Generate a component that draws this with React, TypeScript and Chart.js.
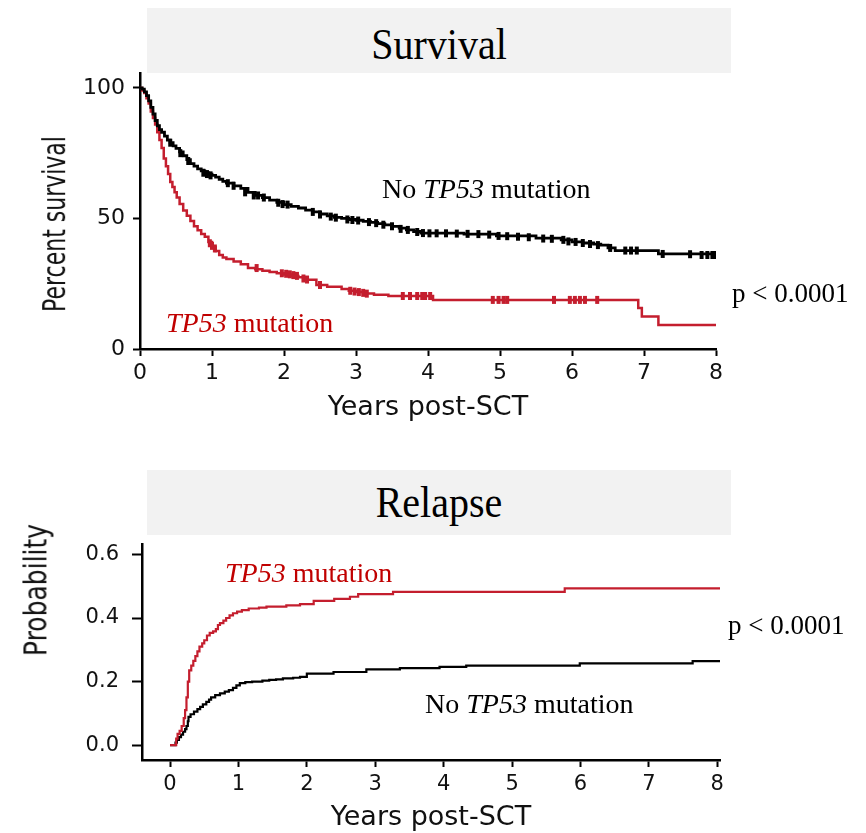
import React, { useEffect, useRef } from "react";
import { Chart, registerables } from "chart.js";

Chart.register(...registerables);

// ---------- Survival (Kaplan-Meier) ----------
const osTimesNo = [0, 0.03, 0.06, 0.09, 0.12, 0.15, 0.18, 0.21, 0.24, 0.27, 0.3, 0.34, 0.38, 0.42, 0.46, 0.5, 0.55, 0.6, 0.65, 0.7, 0.75, 0.8, 0.85, 0.9, 0.95, 1.0, 1.05, 1.1, 1.15, 1.2, 1.3, 1.4, 1.5, 1.6, 1.7, 1.8, 1.9, 2.0, 2.1, 2.2, 2.3, 2.4, 2.5, 2.6, 2.7, 2.8, 2.9, 3.0, 3.1, 3.2, 3.3, 3.4, 3.5, 3.6, 3.7, 3.8, 3.9, 4.5, 4.95, 5.5, 5.85, 6.0, 6.15, 6.3, 6.4, 6.5, 6.6, 7.2, 8.0];
const osValuesNo = [100, 99.5, 98.5, 97, 95, 92.5, 90, 87.5, 85.5, 84, 83, 81.5, 80, 79, 77.8, 76.8, 75.5, 74, 72.5, 71, 70, 69, 68.2, 67.5, 67, 66.5, 65.8, 65, 64.2, 63.5, 62.5, 61.5, 60, 58.8, 58, 57, 56.2, 55.3, 54.6, 54, 53.2, 52.5, 51.7, 51, 50.4, 50, 49.6, 49.3, 48.9, 48.5, 48, 47.5, 47, 46.3, 45.6, 45, 44.4, 44, 43.3, 42.5, 41.8, 41, 40.6, 40.2, 39.8, 38.7, 37.7, 36.4, 36];

const osTimesMut = [0, 0.03, 0.06, 0.09, 0.12, 0.15, 0.18, 0.21, 0.24, 0.27, 0.3, 0.33, 0.36, 0.39, 0.42, 0.45, 0.48, 0.51, 0.55, 0.6, 0.65, 0.7, 0.75, 0.8, 0.85, 0.9, 0.95, 1.0, 1.05, 1.1, 1.15, 1.2, 1.3, 1.4, 1.5, 1.6, 1.7, 1.8, 1.9, 2.0, 2.1, 2.2, 2.3, 2.45, 2.6, 2.8, 2.9, 3.0, 3.1, 3.25, 3.45, 4.07, 6.92, 6.97, 7.2, 8.0];
const osValuesMut = [100, 99, 98, 96, 94, 91, 88.5, 86, 83, 80, 77, 73, 70, 67, 64, 62, 60, 58, 55.5, 53, 51, 49, 47, 45.5, 44, 43, 41, 39, 37.5, 36, 35, 34.5, 33.5, 32.5, 31, 30.5, 30, 29.5, 29, 28.5, 28, 27.5, 26.5, 24.5, 23.8, 23, 22.3, 21.8, 21.3, 20.8, 20.3, 18.8, 15.7, 12.4, 9.2, 9.2];

const censorTimesNo = [0.42, 0.56, 0.67, 0.88, 0.93, 0.98, 1.22, 1.3, 1.46, 1.58, 1.64, 1.72, 1.92, 1.98, 2.05, 2.4, 2.5, 2.65, 2.72, 2.88, 2.95, 3.03, 3.18, 3.28, 3.38, 3.5, 3.62, 3.72, 3.85, 3.93, 4.02, 4.12, 4.25, 4.4, 4.55, 4.7, 4.85, 4.98, 5.1, 5.25, 5.4, 5.6, 5.72, 5.88, 5.95, 6.05, 6.15, 6.25, 6.36, 6.53, 6.74, 6.82, 6.9, 7.26, 7.64, 7.8, 7.88, 7.95, 8.0];
const censorValuesNo = [79, 75, 72, 67.5, 67, 66.5, 63.5, 62.5, 60, 58.8, 58.8, 58, 56, 55.5, 55.3, 52.5, 51.5, 50.7, 50.3, 49.6, 49.4, 49.2, 48.6, 48.2, 47.6, 47, 46, 45.6, 44.8, 44.4, 44.3, 44.3, 44.3, 44.2, 44.1, 44, 43.8, 43.3, 43.2, 43, 42.8, 42.3, 42.2, 41.8, 41.2, 41, 40.6, 40.2, 39.8, 38.7, 37.7, 37.7, 37.7, 36.4, 36.3, 36, 36, 36, 36];

const censorTimesMut = [0.97, 1.0, 1.04, 1.62, 1.97, 2.03, 2.08, 2.13, 2.18, 2.27, 2.32, 2.5, 2.92, 2.98, 3.04, 3.1, 3.15, 3.65, 3.75, 3.85, 3.92, 3.96, 4.03, 4.9, 4.98, 5.05, 5.1, 5.75, 5.97, 6.04, 6.11, 6.18, 6.35];
const censorValuesMut = [40.5, 39.5, 38.5, 31, 29, 28.8, 28.6, 28.3, 28, 27, 26.6, 24.5, 22.3, 22, 21.8, 21.5, 21.2, 20.3, 20.3, 20.3, 20.3, 20.3, 20.3, 18.8, 18.8, 18.8, 18.8, 18.8, 18.8, 18.8, 18.8, 18.8, 18.8];

const osXTicks = [0, 1, 2, 3, 4, 5, 6, 7, 8];
const osYTicks = [0, 50, 100];

// ---------- Relapse (cumulative incidence) ----------
const relTimesMut = [0, 0.07, 0.09, 0.11, 0.14, 0.17, 0.2, 0.22, 0.24, 0.26, 0.28, 0.31, 0.34, 0.37, 0.4, 0.43, 0.47, 0.5, 0.54, 0.58, 0.63, 0.67, 0.7, 0.73, 0.78, 0.82, 0.87, 0.92, 0.98, 1.05, 1.15, 1.3, 1.41, 1.7, 1.9, 2.1, 2.4, 2.63, 2.75, 3.26, 5.77, 8.05];
const relValuesMut = [0, 0, 0.02, 0.035, 0.045, 0.06, 0.085, 0.11, 0.15, 0.2, 0.235, 0.25, 0.265, 0.28, 0.295, 0.31, 0.32, 0.33, 0.345, 0.353, 0.358, 0.365, 0.378, 0.384, 0.392, 0.4, 0.408, 0.415, 0.42, 0.425, 0.43, 0.433, 0.436, 0.44, 0.444, 0.454, 0.46, 0.467, 0.475, 0.482, 0.493, 0.493];

const relTimesNo = [0, 0.05, 0.08, 0.1, 0.13, 0.16, 0.19, 0.22, 0.24, 0.26, 0.27, 0.3, 0.35, 0.4, 0.44, 0.48, 0.53, 0.57, 0.6, 0.66, 0.73, 0.8, 0.86, 0.92, 0.97, 1.02, 1.1, 1.2, 1.35, 1.45, 1.55, 1.65, 1.8, 1.9, 2.0, 2.39, 2.87, 3.36, 3.94, 4.33, 5.99, 7.64, 8.07];
const relValuesNo = [0, 0, 0.008, 0.016, 0.025, 0.033, 0.042, 0.05, 0.06, 0.075, 0.089, 0.097, 0.105, 0.113, 0.12, 0.128, 0.136, 0.143, 0.15, 0.157, 0.163, 0.168, 0.173, 0.18, 0.188, 0.195, 0.198, 0.2, 0.203, 0.205, 0.207, 0.21, 0.212, 0.215, 0.225, 0.23, 0.238, 0.242, 0.246, 0.25, 0.257, 0.264, 0.264];

const relXTicks = [0, 1, 2, 3, 4, 5, 6, 7, 8];
const relYTicks = [0, 0.2, 0.4, 0.6];

const RED_LINE = "#c41e2e";
const RED_TEXT = "#c00000";
const SANS = "'DejaVu Sans', Verdana, sans-serif";
const SERIF = "'Liberation Serif', 'Times New Roman', serif";

const pts = (xs: number[], ys: number[]) => xs.map((x, i) => ({ x, y: ys[i] }));

function ChartCanvas({ config, left, top, width, height }: any) {
  const ref = useRef<HTMLCanvasElement | null>(null);
  useEffect(() => {
    if (!ref.current) return;
    const chart = new Chart(ref.current, config());
    return () => chart.destroy();
  }, []);
  return (
    <canvas
      ref={ref}
      width={width}
      height={height}
      style={{ position: "absolute", left, top, width, height }}
    />
  );
}

const axisCommon = (tickLength: number) => ({
  border: { display: true, color: "#000", width: 2.5 },
  grid: { display: true, drawOnChartArea: false, drawTicks: true, tickLength, tickWidth: 2, color: "#000" },
});

const survivalConfig = () => ({
  type: "line",
  data: {
    datasets: [
      { label: "No TP53 mutation", data: pts(osTimesNo, osValuesNo), borderColor: "#000", borderWidth: 2.8, stepped: true, pointRadius: 0, fill: false },
      { label: "TP53 mutation", data: pts(osTimesMut, osValuesMut), borderColor: RED_LINE, borderWidth: 2.5, stepped: true, pointRadius: 0, fill: false },
      { label: "Censored (No TP53)", data: pts(censorTimesNo, censorValuesNo), showLine: false, pointStyle: "line", pointRotation: 90, pointRadius: 4, pointBorderWidth: 4, pointBorderColor: "#000", borderColor: "#000", backgroundColor: "#000" },
      { label: "Censored (TP53)", data: pts(censorTimesMut, censorValuesMut), showLine: false, pointStyle: "line", pointRotation: 90, pointRadius: 4, pointBorderWidth: 4, pointBorderColor: RED_LINE, borderColor: RED_LINE, backgroundColor: RED_LINE },
    ],
  },
  options: {
    animation: false,
    responsive: false,
    maintainAspectRatio: false,
    layout: { padding: { top: 30, left: 0, right: 150, bottom: 0 } },
    plugins: { legend: { display: false }, tooltip: { enabled: false } },
    scales: {
      x: {
        type: "linear",
        min: 0,
        max: 8,
        ...axisCommon(7),
        afterBuildTicks: (s: any) => { s.ticks = osXTicks.map((v) => ({ value: v })); },
        afterFit: (s: any) => { s.height = 91; },
        ticks: { font: { family: SANS, size: 22 }, color: "#111", padding: 4, maxRotation: 0, autoSkip: false },
        title: { display: true, text: "Years post-SCT", color: "#111", font: { family: SANS, size: 27, lineHeight: 1 }, padding: { top: 0, bottom: 18.5 } },
      },
      y: {
        type: "linear",
        min: 0,
        max: 105.7,
        ...axisCommon(7),
        afterBuildTicks: (s: any) => { s.ticks = osYTicks.map((v) => ({ value: v })); },
        afterFit: (s: any) => { s.width = 140; },
        ticks: { font: { family: SANS, size: 22 }, color: "#111", padding: 8, autoSkip: false },
        title: { display: false, text: "Percent survival" },
      },
    },
  },
});

const relapseConfig = () => ({
  type: "line",
  data: {
    datasets: [
      { label: "TP53 mutation", data: pts(relTimesMut, relValuesMut), borderColor: RED_LINE, borderWidth: 2.2, stepped: true, pointRadius: 0, fill: false },
      { label: "No TP53 mutation", data: pts(relTimesNo, relValuesNo), borderColor: "#000", borderWidth: 2.2, stepped: true, pointRadius: 0, fill: false },
    ],
  },
  options: {
    animation: false,
    responsive: false,
    maintainAspectRatio: false,
    layout: { padding: { top: 30, left: 0, right: 146, bottom: 0 } },
    plugins: { legend: { display: false }, tooltip: { enabled: false } },
    scales: {
      x: {
        type: "linear",
        min: -0.41,
        max: 8.04,
        ...axisCommon(7),
        afterBuildTicks: (s: any) => { s.ticks = relXTicks.map((v) => ({ value: v })); },
        afterFit: (s: any) => { s.height = 73; },
        ticks: { font: { family: SANS, size: 21 }, color: "#111", padding: 5, maxRotation: 0, autoSkip: false },
        title: { display: true, text: "Years post-SCT", color: "#111", font: { family: SANS, size: 27, lineHeight: 1 }, padding: { top: 0, bottom: 1.5 } },
      },
      y: {
        type: "linear",
        min: -0.047,
        max: 0.633,
        ...axisCommon(10),
        afterBuildTicks: (s: any) => { s.ticks = relYTicks.map((v) => ({ value: v })); },
        afterFit: (s: any) => { s.width = 142; },
        ticks: { font: { family: SANS, size: 21 }, color: "#111", padding: 13, autoSkip: false, callback: (v: any) => Number(v).toFixed(1) },
        title: { display: false, text: "Probability" },
      },
    },
  },
});

const abs = (left: number, top: number, extra: any = {}) => ({ position: "absolute" as const, left, top, ...extra });

function Note({ left, baseline, size, color, children }: any) {
  return (
    <div style={abs(left, baseline - size * 0.8375, { fontFamily: SERIF, fontSize: size, lineHeight: 1, color, whiteSpace: "nowrap" })}>
      {children}
    </div>
  );
}

function TitleBox({ top, text, baseline }: any) {
  return (
    <div style={abs(147, top, { width: 584, height: 65, background: "#f2f2f2" })}>
      <div
        style={{
          position: "absolute",
          left: 0,
          width: "100%",
          top: baseline - top - 33.5,
          textAlign: "center",
          fontFamily: SERIF,
          fontSize: 40,
          lineHeight: 1,
          color: "#000",
          transform: "scaleY(1.12)",
          transformOrigin: "50% 33.5px",
        }}
      >
        {text}
      </div>
    </div>
  );
}

function YTitle({ cx, cy, size, scale, text }: any) {
  return (
    <div
      style={abs(cx, cy, {
        fontFamily: SANS,
        fontSize: size,
        lineHeight: 1,
        color: "#111",
        whiteSpace: "nowrap",
        transform: `translate(-50%, -50%) rotate(-90deg) scaleY(${scale})`,
      })}
    >
      {text}
    </div>
  );
}

export default function App() {
  return (
    <div style={{ position: "absolute", left: 0, top: 0, width: 866, height: 833, overflow: "hidden", background: "#fff" }}>
      <ChartCanvas config={survivalConfig} left={0} top={43} width={866} height={397} />
      <ChartCanvas config={relapseConfig} left={0} top={514} width={866} height={319} />

      <TitleBox top={8} text="Survival" baseline={59} />
      <TitleBox top={470} text="Relapse" baseline={517} />

      <YTitle cx={55} cy={224} size={22} scale={1.45} text="Percent survival" />
      <YTitle cx={36} cy={590} size={25} scale={1.28} text="Probability" />

      <Note left={382} baseline={198} size={28} color="#000">No <i>TP53</i> mutation</Note>
      <Note left={166} baseline={332} size={28} color={RED_TEXT}><i>TP53</i> mutation</Note>
      <Note left={732} baseline={303} size={27} color="#000">p &lt; 0.0001</Note>

      <Note left={225} baseline={582} size={28} color={RED_TEXT}><i>TP53</i> mutation</Note>
      <Note left={425} baseline={713} size={28} color="#000">No <i>TP53</i> mutation</Note>
      <Note left={728} baseline={635} size={27} color="#000">p &lt; 0.0001</Note>
    </div>
  );
}
